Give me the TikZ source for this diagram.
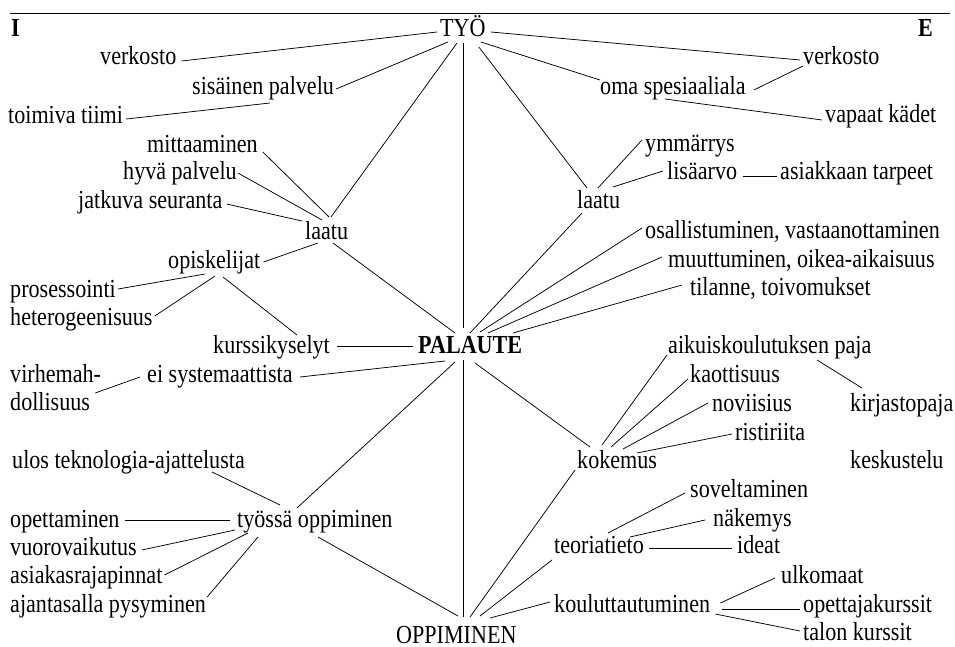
\documentclass[tikz,border=0pt]{standalone}
\usepackage{fontspec}
\setmainfont{Liberation Serif}[FakeStretch=0.85]
\usetikzlibrary{calc}
\begin{document}
\begin{tikzpicture}[x=1pt,y=-1pt,
  lbl/.style={anchor=base west, inner sep=0pt, text height=18pt, text depth=6pt,
    font=\fontsize{26}{30}\selectfont},
  hd/.style={lbl, font=\fontsize{26}{30}\selectfont\bfseries},
  link/.style={draw=black, line width=0.75pt}]
\useasboundingbox (0,0) rectangle (955,647);

% heading rule
\draw[line width=0.9pt] (10,13) -- (950,13);

% ---- main concepts ----
\node[hd]  (I)      at (11,37)  {I};
\node[hd]  (E)      at (918,37) {E};
\node[lbl] (tyo)    at (440,37) {TYÖ};
\node[hd]  (pal)    at (418,353) {PALAUTE};
\node[lbl] (opp)    at (396,643) {OPPIMINEN};

% ---- left half ----
\node[lbl] (verkL)  at (100,65)  {verkosto};
\node[lbl] (sis)    at (192,95)  {sisäinen palvelu};
\node[lbl] (toim)   at (8,124)   {toimiva tiimi};
\node[lbl] (mitt)   at (147,153) {mittaaminen};
\node[lbl] (hyva)   at (123,180) {hyvä palvelu};
\node[lbl] (jatk)   at (78,208)  {jatkuva seuranta};
\node[lbl] (laatuL) at (305,239) {laatu};
\node[lbl] (opisk)  at (168,268) {opiskelijat};
\node[lbl] (pros)   at (10,297)  {prosessointi};
\node[lbl] (hete)   at (10,325)  {heterogeenisuus};
\node[lbl] (kurs)   at (213,353) {kurssikyselyt};
\node[lbl] (virh)   at (10,382)  {virhemah-};
\node[lbl] (doll)   at (10,410)  {dollisuus};
\node[lbl] (eisys)  at (147,382) {ei systemaattista};
\node[lbl] (ulos)   at (12,468)  {ulos teknologia-ajattelusta};
\node[lbl] (tyop)   at (237,527) {työssä oppiminen};
\node[lbl] (opet)   at (10,527)  {opettaminen};
\node[lbl] (vuor)   at (10,555)  {vuorovaikutus};
\node[lbl] (asra)   at (10,583)  {asiakasrajapinnat};
\node[lbl] (ajan)   at (10,612)  {ajantasalla pysyminen};

% ---- right half ----
\node[lbl] (verkR)  at (803,65)  {verkosto};
\node[lbl] (oma)    at (600,95)  {oma spesiaaliala};
\node[lbl] (vapa)   at (825,123) {vapaat kädet};
\node[lbl] (ymm)    at (645,152) {ymmärrys};
\node[lbl] (lisa)   at (667,180) {lisäarvo};
\node[lbl] (astarp) at (780,180) {asiakkaan tarpeet};
\node[lbl] (laatuR) at (577,208) {laatu};
\node[lbl] (osal)   at (645,238) {osallistuminen, vastaanottaminen};
\node[lbl] (muut)   at (668,267) {muuttuminen, oikea-aikaisuus};
\node[lbl] (tila)   at (690,295) {tilanne, toivomukset};
\node[lbl] (aiku)   at (668,353) {aikuiskoulutuksen paja};
\node[lbl] (kaot)   at (690,382) {kaottisuus};
\node[lbl] (novi)   at (712,411) {noviisius};
\node[lbl] (kirj)   at (850,411) {kirjastopaja};
\node[lbl] (rist)   at (735,440) {ristiriita};
\node[lbl] (koke)   at (577,468) {kokemus};
\node[lbl] (kesk)   at (850,468) {keskustelu};
\node[lbl] (sove)   at (690,497) {soveltaminen};
\node[lbl] (nake)   at (713,526) {näkemys};
\node[lbl] (teor)   at (554,553) {teoriatieto};
\node[lbl] (idea)   at (737,553) {ideat};
\node[lbl] (ulko)   at (781,583) {ulkomaat};
\node[lbl] (koul)   at (554,612) {kouluttautuminen};
\node[lbl] (opku)   at (803,612) {opettajakurssit};
\node[lbl] (talo)   at (803,640) {talon kurssit};

% ---- connectors, left half ----
\path[link] ($(verkL.base east)+(5,-4)$) -- ($(tyo.base west)+(-3,-5)$);
\path[link] ($(sis.base east)+(2,-6)$) -- ($(tyo.base west)+(8,5)$);
\path[link] ($(toim.base east)+(3,-5)$) -- ($(sis.base west)+(78,8)$);
\path[link] ($(tyo.base west)+(17,6)$) -- ($(laatuL.base west)+(26,-22)$);
\path[link] ($(tyo.base west)+(23,6)$) -- ($(pal.base west)+(45,-25)$);
\path[link] ($(mitt.base east)+(5,-1)$) -- ($(laatuL.base west)+(24,-22)$);
\path[link] ($(hyva.base east)+(1,-7)$) -- ($(laatuL.base west)+(17,-19)$);
\path[link] ($(jatk.base east)+(4,-4)$) -- ($(laatuL.base west)+(-3,-18)$);
\path[link] ($(laatuL.base west)+(28,4)$) -- ($(pal.base west)+(37,-20)$);
\path[link] ($(opisk.base east)+(3,-6)$) -- ($(laatuL.base west)+(13,4)$);
\path[link] ($(pros.base east)+(2,-8)$) -- ($(opisk.base west)+(37,6)$);
\path[link] ($(hete.base east)+(2,-9)$) -- ($(opisk.base west)+(47,8)$);
\path[link] ($(opisk.base west)+(55,9)$) -- ($(kurs.base west)+(84,-18)$);
\path[link] ($(kurs.base east)+(7,-7)$) -- ($(pal.base west)+(-5,-7)$);
\path[link] ($(eisys.base east)+(7,-5)$) -- ($(pal.base west)+(27,8)$);
\path[link] ($(doll.base east)+(5,-17)$) -- ($(eisys.base west)+(-7,-5)$);
\path[link] ($(pal.base west)+(37,9)$) -- ($(tyop.base west)+(60,-19)$);
\path[link] ($(pal.base west)+(45,7)$) -- ($(opp.base west)+(67,-26)$);
\path[link] ($(ulos.base west)+(200,4)$) -- ($(tyop.base west)+(43,-22)$);
\path[link] ($(opet.base east)+(5,-7)$) -- ($(tyop.base west)+(-7,-7)$);
\path[link] ($(vuor.base east)+(5,-5)$) -- ($(tyop.base west)+(-2,3)$);
\path[link] ($(asra.base east)+(2,-8)$) -- ($(tyop.base west)+(11,6)$);
\path[link] ($(ajan.base east)+(1,-15)$) -- ($(tyop.base west)+(21,10)$);
\path[link] ($(tyop.base west)+(81,10)$) -- ($(opp.base west)+(62,-27)$);
\path[link] ($(koke.base west)+(-2,2)$) -- ($(opp.base west)+(74,-26)$);
\path[link] ($(teor.base west)+(-2,7)$) -- ($(opp.base west)+(84,-27)$);
\path[link] ($(koul.base west)+(-4,-10)$) -- ($(opp.base west)+(94,-25)$);

% ---- connectors, right half ----
\path[link] ($(tyo.base east)+(5,-5)$) -- ($(verkR.base west)+(-3,-5)$);
\path[link] ($(tyo.base east)+(-5,5)$) -- ($(oma.base west)+(0,-15)$);
\path[link] ($(oma.base east)+(8,-5)$) -- ($(verkR.base west)+(0,1)$);
\path[link] ($(oma.base west)+(65,4)$) -- ($(vapa.base west)+(-3,-3)$);
\path[link] ($(tyo.base east)+(-7,10)$) -- ($(laatuR.base west)+(10,-20)$);
\path[link] ($(ymm.base west)+(-3,-12)$) -- ($(laatuR.base west)+(21,-20)$);
\path[link] ($(lisa.base west)+(-4,-9)$) -- ($(laatuR.base west)+(36,-21)$);
\path[link] ($(lisa.base east)+(6,-4)$) -- ($(astarp.base west)+(-3,-4)$);
\path[link] ($(laatuR.base west)+(5,5)$) -- ($(pal.base west)+(52,-20)$);
\path[link] ($(osal.base west)+(-3,-10)$) -- ($(pal.base west)+(62,-21)$);
\path[link] ($(muut.base west)+(-6,-10)$) -- ($(pal.base west)+(70,-20)$);
\path[link] ($(tila.base west)+(-8,-10)$) -- ($(pal.base west)+(95,-20)$);
\path[link] ($(pal.base west)+(57,10)$) -- ($(koke.base west)+(13,-21)$);
\path[link] ($(aiku.base west)+(-1,2)$) -- ($(koke.base west)+(25,-23)$);
\path[link] ($(kaot.base west)+(-2,-3)$) -- ($(koke.base west)+(34,-21)$);
\path[link] ($(novi.base west)+(-4,-8)$) -- ($(koke.base west)+(46,-19)$);
\path[link] ($(rist.base west)+(-3,-6)$) -- ($(koke.base west)+(60,-15)$);
\path[link] ($(aiku.base west)+(149,7)$) -- ($(kirj.base west)+(12,-23)$);
\path[link] ($(sove.base west)+(-5,-4)$) -- ($(teor.base west)+(54,-20)$);
\path[link] ($(nake.base west)+(-8,-6)$) -- ($(teor.base west)+(76,-16)$);
\path[link] ($(teor.base east)+(5,-5)$) -- ($(idea.base west)+(-5,-5)$);
\path[link] ($(koul.base east)+(10,-9)$) -- ($(ulko.base west)+(-6,-5)$);
\path[link] ($(koul.base east)+(12,-3)$) -- ($(opku.base west)+(-3,-3)$);
\path[link] ($(koul.base east)+(5,2)$) -- ($(talo.base west)+(-3,-9)$);
\end{tikzpicture}
\end{document}
